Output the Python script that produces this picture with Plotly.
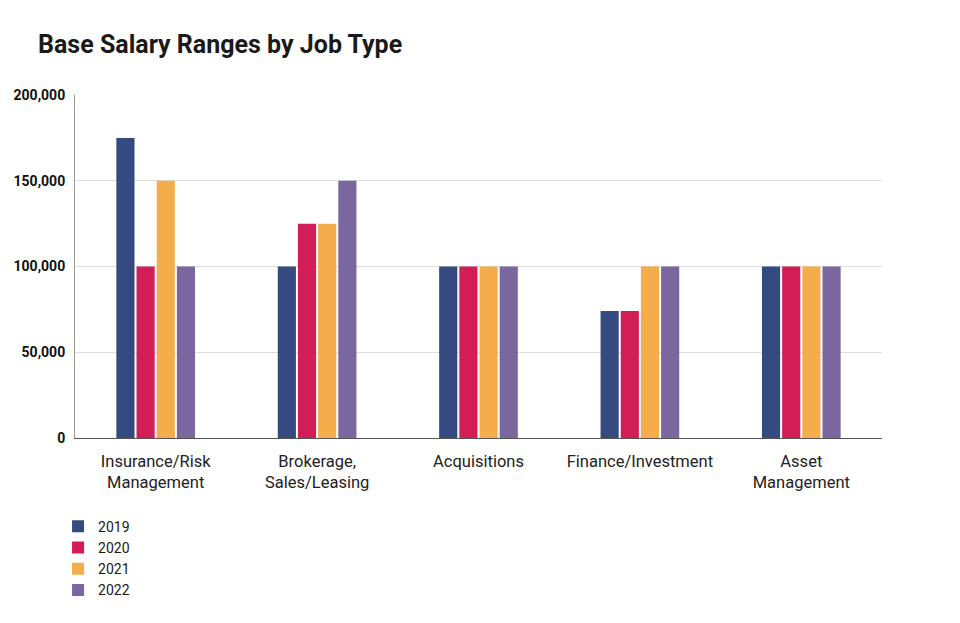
#!/usr/bin/python3
"""Base salary ranges by job type, grouped bar chart"""
import plotly.graph_objects as go

job_types = ["Insurance/Risk<br>Management",
             "Brokerage,<br>Sales/Leasing",
             "Acquisitions",
             "Finance/Investment",
             "Asset<br>Management"]

years = ["2019", "2020", "2021", "2022"]

salary_2019 = [175000, 100000, 100000, 74000, 100000]
salary_2020 = [100000, 125000, 100000, 74000, 100000]
salary_2021 = [150000, 125000, 100000, 100000, 100000]
salary_2022 = [100000, 150000, 100000, 100000, 100000]

year_colors = ["#344a80", "#d21d57", "#f5ad4c", "#7a67a0"]

FONT = "Roboto"

fig = go.Figure()
for year, values, color in zip(years,
                               [salary_2019, salary_2020, salary_2021, salary_2022],
                               year_colors):
    fig.add_trace(go.Bar(x=job_types, y=values, name=year,
                         marker_color=color, marker_line_width=0))

fig.update_layout(
    width=960, height=623,
    margin=dict(l=67, r=86, t=87, b=193),
    paper_bgcolor="white", plot_bgcolor="white",
    barmode="group", bargap=0.5, bargroupgap=0.1,
    title=dict(text="<b>Base Salary Ranges by Job Type</b>",
               x=30 / 960, xref="container", xanchor="left",
               y=0.942, yref="container", yanchor="middle",
               font=dict(family=FONT, size=25, color="#1a1a1a")),
    legend=dict(orientation="v", x=-0.021, xanchor="left",
                y=-0.212, yanchor="top", itemwidth=30,
                font=dict(family=FONT, size=14, color="#1a1a1a"),
                traceorder="normal"),
    showlegend=True,
)
fig.update_xaxes(showline=True, linecolor="#555555", linewidth=1.2,
                 ticks="", ticklabelstandoff=8, automargin=False,
                 tickfont=dict(family=FONT, size=16.5, color="#222222"))
fig.update_yaxes(range=[0, 200000], dtick=50000, tickformat=",",
                 showline=True, linecolor="#999999", linewidth=1,
                 showgrid=True, gridcolor="#dddddd", gridwidth=1,
                 zeroline=False, ticks="", ticklabelstandoff=6, automargin=False,
                 tickfont=dict(family=FONT, size=14, color="#111111",
                               weight="bold"))

fig.write_html("out.html")
